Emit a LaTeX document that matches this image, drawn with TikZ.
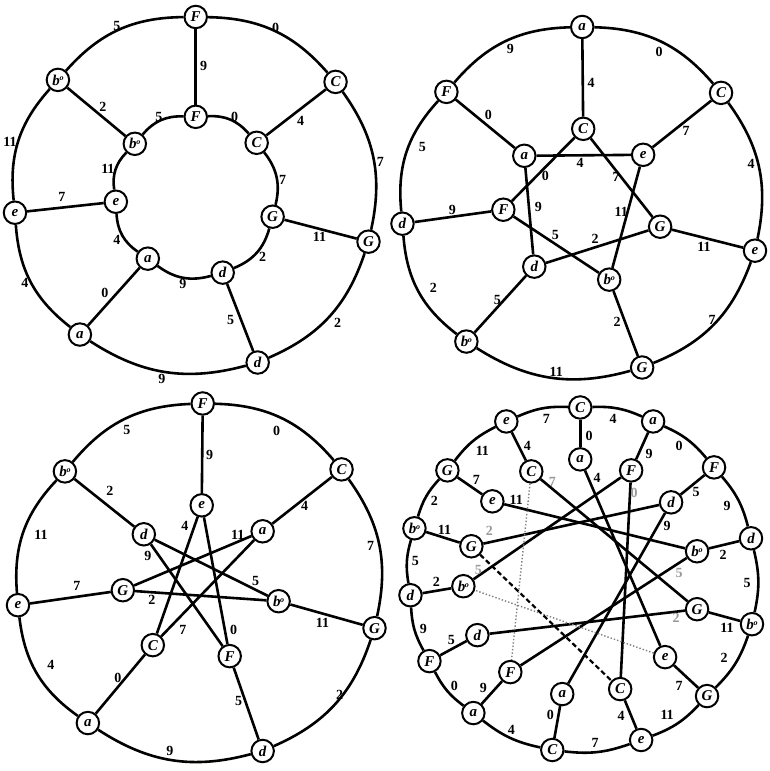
\documentclass[tikz,border=0pt]{standalone}
\usepackage{fontspec}
\setmainfont{Liberation Serif}
\newcommand{\mybdim}{b\kern-.3pt\raisebox{.6ex}{\fontsize{8}{8}\selectfont o}}
\pgfdeclarelayer{bg}
\pgfdeclarelayer{edges}
\pgfsetlayers{bg,edges,main}
\begin{document}
\begin{tikzpicture}[x=1pt,y=1pt,
 pc/.style={circle,draw,line width=2pt,fill=white,minimum size=22.5pt,inner sep=0pt,font=\fontsize{15}{15}\selectfont\bfseries\itshape},
 lbl/.style={inner sep=0pt,font=\fontsize{14}{14}\selectfont\bfseries},
 flbl/.style={lbl,text=black!40},
 ed/.style={line width=2.6pt},
 fdot/.style={line width=1.4pt,black!50,dotted},
 fdash/.style={line width=2.2pt,dash pattern=on 5pt off 3pt}]
\begin{pgfonlayer}{bg}
\useasboundingbox[fill=white] (0,0) rectangle (771,-768);
\end{pgfonlayer}

% ---------------- Panel 1 ----------------
\node[pc] (p1oF) at (196,-17) {F};
\node[pc] (p1oC) at (336,-82) {C};
\node[pc] (p1oG) at (369,-242) {G};
\node[pc] (p1od) at (258,-363) {d};
\node[pc] (p1oa) at (80,-335) {a};
\node[pc] (p1oe) at (15,-213) {e};
\node[pc] (p1ob) at (58,-80) {\mybdim};
\node[pc] (p1iF) at (196,-117) {F};
\node[pc] (p1iC) at (257,-143) {C};
\node[pc] (p1iG) at (273,-217) {G};
\node[pc] (p1id) at (223,-273) {d};
\node[pc] (p1ia) at (148,-259) {a};
\node[pc] (p1ie) at (116,-202) {e};
\node[pc] (p1ib) at (135,-144) {\mybdim};
\begin{pgfonlayer}{edges}
\foreach \u/\v in {F/C,C/G,G/d,d/a,a/e,e/b,b/F} {
  \draw[ed] (p1o\u) to[bend left=24] (p1o\v);
  \draw[ed] (p1i\u) to[bend left=26] (p1i\v);
}
\foreach \n in {F,C,G,d,a,e,b} {\draw[ed] (p1o\n) -- (p1i\n);}
\end{pgfonlayer}
\node[lbl] at (276,-28) {0};
\node[lbl] at (381,-162) {7};
\node[lbl] at (338,-323) {2};
\node[lbl] at (162,-379) {9};
\node[lbl] at (25,-283) {4};
\node[lbl] at (10,-142) {11};
\node[lbl] at (117,-26) {5};
\node[lbl] at (204,-66) {9};
\node[lbl] at (301,-121) {4};
\node[lbl] at (320,-237) {11};
\node[lbl] at (231,-320) {5};
\node[lbl] at (105,-293) {0};
\node[lbl] at (62,-197) {7};
\node[lbl] at (103,-107) {2};
\node[lbl] at (235,-117) {0};
\node[lbl] at (283,-180) {7};
\node[lbl] at (263,-257) {2};
\node[lbl] at (183,-284) {9};
\node[lbl] at (117,-240) {4};
\node[lbl] at (108,-169) {11};
\node[lbl] at (159,-117) {5};

% ---------------- Panel 2 ----------------
\node[pc] (p2oa) at (583,-27) {a};
\node[pc] (p2oC) at (722,-93) {C};
\node[pc] (p2oe) at (756,-251) {e};
\node[pc] (p2oG) at (643,-368) {G};
\node[pc] (p2ob) at (467,-342) {\mybdim};
\node[pc] (p2od) at (403,-224) {d};
\node[pc] (p2oF) at (447,-92) {F};
\node[pc] (p2iC) at (584,-129) {C};
\node[pc] (p2ie) at (644,-155) {e};
\node[pc] (p2iG) at (661,-227) {G};
\node[pc] (p2ib) at (610,-280) {\mybdim};
\node[pc] (p2id) at (535,-267) {d};
\node[pc] (p2iF) at (504,-210) {F};
\node[pc] (p2ia) at (525,-156) {a};
\begin{pgfonlayer}{edges}
\foreach \u/\v in {a/C,C/e,e/G,G/b,b/d,d/F,F/a} {\draw[ed] (p2o\u) to[bend left=24] (p2o\v);}
\foreach \u/\v in {oa/iC,oC/ie,oe/iG,oG/ib,ob/id,od/iF,oF/ia,
                   ia/ie,iC/iF,iC/iG,ia/id,ie/ib,iF/ib,id/iG} {\draw[ed] (p2\u) -- (p2\v);}
\end{pgfonlayer}
\node[lbl] at (660,-52) {0};
\node[lbl] at (752,-164) {4};
\node[lbl] at (713,-320) {7};
\node[lbl] at (557,-372) {11};
\node[lbl] at (434,-288) {2};
\node[lbl] at (423,-147) {5};
\node[lbl] at (511,-49) {9};
\node[lbl] at (592,-83) {4};
\node[lbl] at (687,-131) {7};
\node[lbl] at (705,-247) {11};
\node[lbl] at (618,-322) {2};
\node[lbl] at (498,-300) {5};
\node[lbl] at (453,-210) {9};
\node[lbl] at (489,-115) {0};
\node[lbl] at (581,-163) {4};
\node[lbl] at (546,-176) {0};
\node[lbl] at (617,-177) {7};
\node[lbl] at (539,-207) {9};
\node[lbl] at (622,-212) {11};
\node[lbl] at (556,-235) {5};
\node[lbl] at (596,-239) {2};

% ---------------- Panel 3 ----------------
\node[pc] (p3oF) at (203,-404) {F};
\node[pc] (p3oC) at (342,-470) {C};
\node[pc] (p3oG) at (375,-629) {G};
\node[pc] (p3od) at (263,-752) {d};
\node[pc] (p3oa) at (88,-724) {a};
\node[pc] (p3oe) at (18,-606) {e};
\node[pc] (p3ob) at (65,-472) {\mybdim};
\node[pc] (p3ie) at (202,-506) {e};
\node[pc] (p3ia) at (263,-532) {a};
\node[pc] (p3ib) at (279,-602) {\mybdim};
\node[pc] (p3iF) at (230,-657) {F};
\node[pc] (p3iC) at (153,-646) {C};
\node[pc] (p3iG) at (123,-591) {G};
\node[pc] (p3id) at (144,-535) {d};
\begin{pgfonlayer}{edges}
\foreach \u/\v in {F/C,C/G,G/d,d/a,a/e,e/b,b/F} {\draw[ed] (p3o\u) to[bend left=24] (p3o\v);}
\foreach \u/\v in {oF/ie,oC/ia,oG/ib,od/iF,oa/iC,oe/iG,ob/id,
                   ie/iC,ie/iF,id/ib,id/iF,ia/iG,ia/iC,iG/ib} {\draw[ed] (p3\u) -- (p3\v);}
\end{pgfonlayer}
\node[lbl] at (277,-431) {0};
\node[lbl] at (371,-547) {7};
\node[lbl] at (340,-696) {2};
\node[lbl] at (170,-752) {9};
\node[lbl] at (51,-666) {4};
\node[lbl] at (41,-536) {11};
\node[lbl] at (127,-431) {5};
\node[lbl] at (210,-456) {9};
\node[lbl] at (305,-507) {4};
\node[lbl] at (323,-624) {11};
\node[lbl] at (239,-702) {5};
\node[lbl] at (118,-679) {0};
\node[lbl] at (77,-587) {7};
\node[lbl] at (110,-492) {2};
\node[lbl] at (185,-527) {4};
\node[lbl] at (238,-536) {11};
\node[lbl] at (148,-557) {9};
\node[lbl] at (256,-582) {5};
\node[lbl] at (152,-601) {2};
\node[lbl] at (183,-631) {7};
\node[lbl] at (234,-631) {0};

% ---------------- Panel 4 ----------------
\node[pc] (p4o0) at (581,-408) {C};
\node[pc] (p4o1) at (654,-422) {a};
\node[pc] (p4o2) at (715,-468) {F};
\node[pc] (p4o3) at (752,-539) {d};
\node[pc] (p4o4) at (753,-625) {\mybdim};
\node[pc] (p4o5) at (708,-697) {G};
\node[pc] (p4o6) at (642,-741) {e};
\node[pc] (p4o7) at (553,-751) {C};
\node[pc] (p4o8) at (474,-714) {a};
\node[pc] (p4o9) at (430,-662) {F};
\node[pc] (p4o10) at (411,-596) {d};
\node[pc] (p4o11) at (415,-529) {\mybdim};
\node[pc] (p4o12) at (448,-471) {G};
\node[pc] (p4o13) at (507,-422) {e};
\node[pc] (p4i0) at (581,-460) {a};
\node[pc] (p4i1) at (632,-471) {F};
\node[pc] (p4i2) at (672,-503) {d};
\node[pc] (p4i3) at (698,-552) {\mybdim};
\node[pc] (p4i4) at (698,-610) {G};
\node[pc] (p4i5) at (666,-658) {e};
\node[pc] (p4i6) at (621,-690) {C};
\node[pc] (p4i7) at (563,-695) {a};
\node[pc] (p4i8) at (511,-673) {F};
\node[pc] (p4i9) at (478,-636) {d};
\node[pc] (p4i10) at (464,-587) {\mybdim};
\node[pc] (p4i11) at (472,-547) {G};
\node[pc] (p4i12) at (493,-502) {e};
\node[pc] (p4i13) at (532,-472) {C};
\begin{pgfonlayer}{edges}
\foreach \k/\nx in {0/1,1/2,2/3,3/4,4/5,5/6,6/7,7/8,8/9,9/10,10/11,11/12,12/13,13/0}
  {\draw[ed] (p4o\k) to[bend left=13] (p4o\nx);}
\foreach \k in {0,...,13} {\draw[ed] (p4o\k) -- (p4i\k);}
\foreach \u/\v in {0/5,1/6,2/7,3/8,4/9,10/1,11/2,12/3,13/4} {\draw[ed] (p4i\u) -- (p4i\v);}
\draw[fdot] (p4i5) -- (p4i10);
\draw[fdash] (p4i11) -- (p4i6);
\draw[fdot] (p4i13) -- (p4i8);
\end{pgfonlayer}
% outer labels
\node[lbl] at (614,-419) {4};
\node[lbl] at (680,-447) {0};
\node[lbl] at (728,-507) {9};
\node[lbl] at (748,-584) {5};
\node[lbl] at (725,-659) {2};
\node[lbl] at (668,-716) {11};
\node[lbl] at (596,-744) {7};
\node[lbl] at (512,-731) {4};
\node[lbl] at (455,-687) {0};
\node[lbl] at (424,-630) {9};
\node[lbl] at (416,-562) {5};
\node[lbl] at (435,-502) {2};
\node[lbl] at (483,-451) {11};
\node[lbl] at (547,-419) {7};
% spoke labels
\node[lbl] at (590,-436) {0};
\node[lbl] at (650,-455) {9};
\node[lbl] at (697,-493) {5};
\node[lbl] at (724,-556) {2};
\node[lbl] at (728,-629) {11};
\node[lbl] at (680,-687) {7};
\node[lbl] at (622,-717) {4};
\node[lbl] at (551,-716) {0};
\node[lbl] at (484,-689) {9};
\node[lbl] at (452,-641) {5};
\node[lbl] at (437,-583) {2};
\node[lbl] at (445,-531) {11};
\node[lbl] at (477,-481) {7};
\node[lbl] at (528,-446) {4};
% chord labels
\node[lbl] at (598,-479) {4};
\node[flbl] at (635,-494) {0};
\node[lbl] at (668,-527) {9};
\node[flbl] at (680,-574) {5};
\node[flbl] at (677,-619) {2};
\node[flbl] at (553,-483) {7};
\node[lbl] at (517,-501) {11};
\node[flbl] at (490,-532) {2};
\node[flbl] at (479,-571) {5};
\end{tikzpicture}
\end{document}
